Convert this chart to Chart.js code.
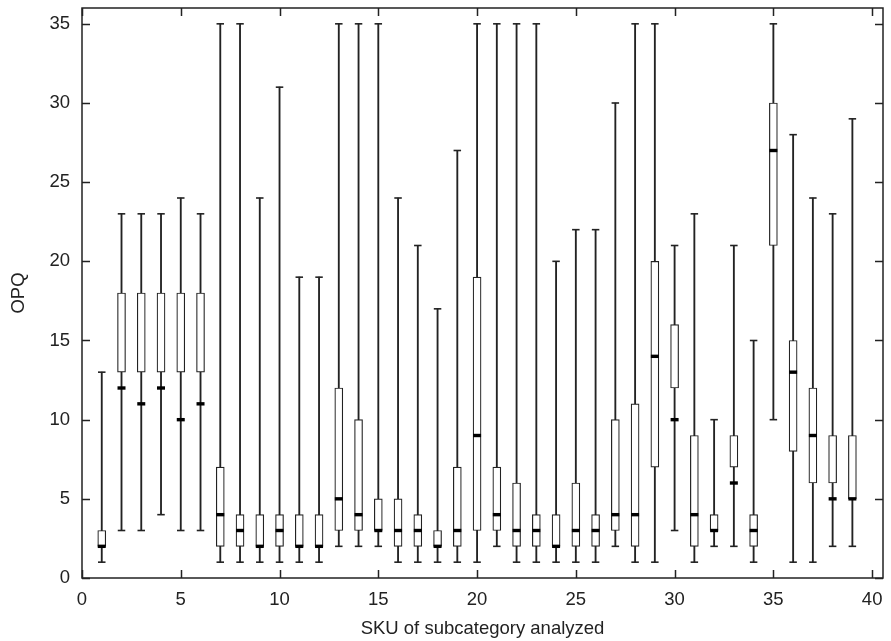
<!DOCTYPE html>
<html>
<head>
<meta charset="utf-8">
<script src="https://cdn.jsdelivr.net/npm/chart.js@4.4.1/dist/chart.umd.min.js"></script>
<style>
  html, body { margin: 0; padding: 0; background: #fff; }
  canvas { display: block; }
</style>
</head>
<body>
<canvas id="boxChart" width="891" height="641"></canvas>
<script>
// SKU numbers and the five box values
const skus        = [1, 2, 3, 4, 5, 6, 7, 8, 9, 10, 11, 12, 13, 14, 15, 16, 17, 18, 19, 20,
                     21, 22, 23, 24, 25, 26, 27, 28, 29, 30, 31, 32, 33, 34, 35, 36, 37, 38, 39];
const whiskerLow  = [1, 3, 3, 4, 3, 3, 1, 1, 1, 1, 1, 1, 2, 2, 2, 1, 1, 1, 1, 1,
                     2, 1, 1, 1, 1, 1, 2, 1, 1, 3, 1, 2, 2, 1, 10, 1, 1, 2, 2];
const boxLow      = [2, 13, 13, 13, 13, 13, 2, 2, 2, 2, 2, 2, 3, 3, 3, 2, 2, 2, 2, 3,
                     3, 2, 2, 2, 2, 2, 3, 2, 7, 12, 2, 3, 7, 2, 21, 8, 6, 6, 5];
const medians     = [2, 12, 11, 12, 10, 11, 4, 3, 2, 3, 2, 2, 5, 4, 3, 3, 3, 2, 3, 9,
                     4, 3, 3, 2, 3, 3, 4, 4, 14, 10, 4, 3, 6, 3, 27, 13, 9, 5, 5];
const boxHigh     = [3, 18, 18, 18, 18, 18, 7, 4, 4, 4, 4, 4, 12, 10, 5, 5, 4, 3, 7, 19,
                     7, 6, 4, 4, 6, 4, 10, 11, 20, 16, 9, 4, 9, 4, 30, 15, 12, 9, 9];
const whiskerHigh = [13, 23, 23, 23, 24, 23, 35, 35, 24, 31, 19, 19, 35, 35, 35, 24, 21, 17, 27, 35,
                     35, 35, 35, 20, 22, 22, 30, 35, 35, 21, 23, 10, 21, 15, 35, 28, 24, 23, 29];
const xTitle = 'SKU of subcategory analyzed';
const yTitle = 'OPQ';

Chart.defaults.font.family = '"Liberation Sans", Arial, Helvetica, sans-serif';
Chart.defaults.font.size = 18.5;
Chart.defaults.color = '#222';

const INK = '#222';

// frame round the plot with inward tick marks on all four sides
const framePlugin = {
  id: 'frame',
  afterDraw(chart) {
    const { ctx, chartArea: a, scales: { x, y } } = chart;
    const len = 8;
    ctx.save();
    ctx.strokeStyle = INK;
    ctx.lineWidth = 1.5;
    ctx.strokeRect(a.left, a.top, a.right - a.left, a.bottom - a.top);
    ctx.beginPath();
    x.ticks.forEach(t => {
      const px = Math.round(x.getPixelForValue(t.value)) + 0.5;
      ctx.moveTo(px, a.bottom); ctx.lineTo(px, a.bottom - len);
      ctx.moveTo(px, a.top);    ctx.lineTo(px, a.top + len);
    });
    y.ticks.forEach(t => {
      const py = Math.round(y.getPixelForValue(t.value)) + 0.5;
      ctx.moveTo(a.left, py);  ctx.lineTo(a.left + len, py);
      ctx.moveTo(a.right, py); ctx.lineTo(a.right - len, py);
    });
    ctx.stroke();
    ctx.restore();
  }
};

const ctx = document.getElementById('boxChart').getContext('2d');
new Chart(ctx, {
  type: 'bar',
  data: {
    datasets: [
      {
        label: 'whiskers',
        data: skus.map((s, i) => ({ x: s, y: [whiskerLow[i], whiskerHigh[i]] })),
        backgroundColor: INK,
        borderWidth: 0,
        barThickness: 1.2,
        grouped: false,
        order: 4
      },
      {
        label: 'boxes',
        data: skus.map((s, i) => ({ x: s, y: [boxLow[i], boxHigh[i]] })),
        backgroundColor: '#fff',
        borderColor: INK,
        borderWidth: 1.2,
        borderSkipped: false,
        barThickness: 8,
        grouped: false,
        order: 3
      },
      {
        type: 'scatter',
        label: 'caps',
        data: skus.flatMap((s, i) => [{ x: s, y: whiskerLow[i] }, { x: s, y: whiskerHigh[i] }]),
        pointStyle: 'line',
        pointRadius: 3.75,
        borderColor: INK,
        borderWidth: 1.6,
        order: 2
      },
      {
        type: 'scatter',
        label: 'median',
        data: skus.map((s, i) => ({ x: s, y: medians[i] })),
        pointStyle: 'line',
        pointRadius: 4,
        borderColor: '#000',
        borderWidth: 3.4,
        order: 1
      }
    ]
  },
  options: {
    responsive: false,
    animation: false,
    layout: { padding: { top: 8, right: 8, left: 0, bottom: 0 } },
    plugins: {
      legend: { display: false },
      tooltip: { enabled: false }
    },
    scales: {
      x: {
        type: 'linear',
        offset: false,
        min: 0,
        max: 40.55,
        grid: { display: false, drawTicks: false },
        border: { display: false },
        ticks: { stepSize: 5, includeBounds: false, padding: 10.5, maxRotation: 0 },
        title: { display: true, text: xTitle, padding: { top: 0, bottom: 1 } },
        afterFit(scale) {
          scale.height = 63;
          scale.paddingLeft = 0;
          scale.paddingRight = 0;
        }
      },
      y: {
        min: 0,
        max: 36,
        grid: { display: false, drawTicks: false },
        border: { display: false },
        ticks: { stepSize: 5, includeBounds: false, padding: 12 },
        title: { display: true, text: yTitle, padding: { top: 8, bottom: 0 } },
        afterFit(scale) {
          scale.width = 82;
          scale.paddingTop = 0;
          scale.paddingBottom = 0;
        }
      }
    }
  },
  plugins: [framePlugin]
});
</script>
</body>
</html>
